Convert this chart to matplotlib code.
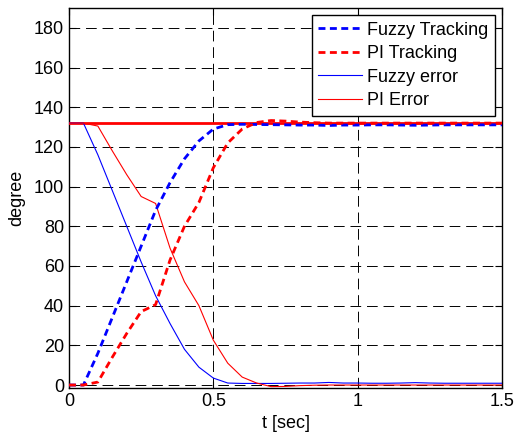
import numpy as np
import matplotlib
matplotlib.use("Agg")
import matplotlib.pyplot as plt

t = [0.0, 0.05, 0.1, 0.15, 0.2, 0.25, 0.3, 0.35, 0.4, 0.45, 0.5, 0.55, 0.6, 0.65, 0.7,
     0.75, 0.8, 0.85, 0.9, 0.95, 1.0, 1.05, 1.1, 1.15, 1.2, 1.25, 1.3, 1.35, 1.4, 1.45, 1.5]

reference = 132.0

fuzzy_tracking = [0, 0, 16, 34, 52, 70, 88, 102, 114, 123, 129, 131.2, 131.4, 131.3, 131.2,
                  131.1, 131.0, 131.0, 130.8, 131.0, 131.0, 131.1, 131.1, 131.0, 130.9, 131.0,
                  131.1, 131.1, 131.1, 131.1, 131.1]
pi_tracking = [0, 0, 1.5, 14, 26, 37, 40.5, 63, 80, 92, 109.5, 122, 129, 132.3, 133.3,
               133.0, 132.5, 132.2, 132.0, 132.0, 132.0, 132.0, 132.0, 132.0, 132.0, 132.0,
               132.0, 132.0, 132.0, 132.0, 132.0]
fuzzy_error = [132, 132, 116, 98, 80, 62, 45, 31, 18, 9, 3.5, 1.0, 0.8, 0.8, 0.8,
               0.9, 1.0, 1.0, 1.3, 1.0, 1.0, 0.9, 0.9, 1.0, 1.2, 1.0,
               0.9, 0.9, 0.9, 0.9, 0.9]
pi_error = [132, 132, 130.5, 118, 106, 95, 91.5, 69, 52, 40, 22.6, 11, 4, 1, -0.8,
            -0.7, -0.3, -0.1, 0, 0, 0, 0, 0, 0, 0, 0, 0, 0, 0, 0, 0]

xticks = [0, 0.5, 1, 1.5]
xticklabels = ["0", "0.5", "1", "1.5"]
yticks = [0, 20, 40, 60, 80, 100, 120, 140, 160, 180]

plt.rcParams['font.family'] = ['Liberation Sans', 'DejaVu Sans']

fig = plt.figure(figsize=(5.15, 4.38), dpi=100)
ax = fig.add_axes([69/515, 1-388/438, (502-69)/515, (388-8)/438])

ax.plot([t[0], t[-1]], [reference, reference], color='#ff0000', lw=2.0, zorder=3)
l1, = ax.plot(t, fuzzy_tracking, color='#0000ff', lw=2.0, linestyle=(0, (2.5, 1.6)), label='Fuzzy Tracking', zorder=4)
l2, = ax.plot(t, pi_tracking, color='#ff0000', lw=2.0, linestyle=(0, (2.5, 1.6)), label='PI Tracking', zorder=4)
l3, = ax.plot(t, fuzzy_error, color='#0000ff', lw=0.8, label='Fuzzy error', zorder=3)
l4, = ax.plot(t, pi_error, color='#ff0000', lw=0.8, label='PI Error', zorder=3)

ax.set_xlim(0, 1.5)
ax.set_ylim(-1.5, 190)
ax.set_xticks(xticks)
ax.set_xticklabels(xticklabels)
ax.set_yticks(yticks)
ax.tick_params(direction='in', top=True, right=True, length=5, labelsize=13, width=0.8)
ax.grid(True, color='black', linestyle=(0, (11, 6)), lw=0.7)
for s in ax.spines.values():
    s.set_linewidth(1.0)

ax.set_xlabel('t [sec]', fontsize=13, labelpad=4)
ax.set_ylabel('degree', fontsize=13, labelpad=6)

leg = ax.legend(loc='upper right', fontsize=13, handlelength=2.4, handletextpad=0.3,
                labelspacing=0.36, borderpad=0.36, borderaxespad=0.4, fancybox=False,
                edgecolor='black', framealpha=1)
leg.get_frame().set_linewidth(1.0)

fig.savefig('out.png', dpi=100)
